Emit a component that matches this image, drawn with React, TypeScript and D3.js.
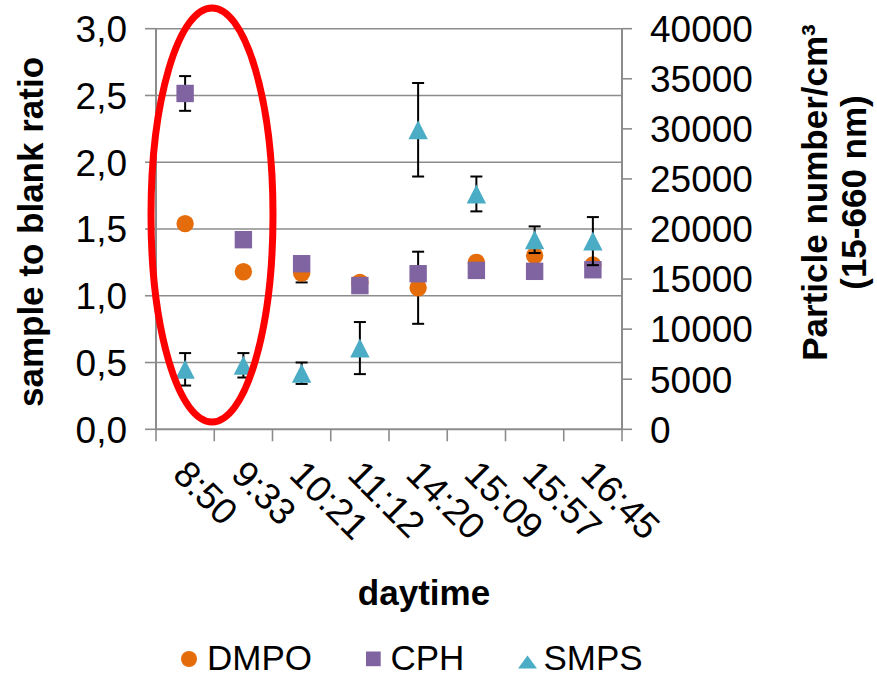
import React from 'react';
import * as d3 from 'd3';

const categories = ['8:50', '9:33', '10:21', '11:12', '14:20', '15:09', '15:57', '16:45'];
const dmpo = [1.54, 1.18, 1.17, 1.1, 1.06, 1.25, 1.3, 1.23];
const dmpoErr = [0, 0, 0.07, 0, 0.27, 0, 0, 0];
const cph = [2.515, 1.42, 1.24, 1.076, 1.165, 1.19, 1.183, 1.195];
const cphErr = [0.13, 0, 0, 0, 0, 0, 0, 0];
const smps = [5990, 6390, 5600, 8110, 29910, 23500, 18930, 18790];
const smpsErr = [1620, 1220, 1070, 2600, 4670, 1740, 1330, 2400];
const leftTicks = [0, 0.5, 1, 1.5, 2, 2.5, 3];
const rightTicks = [0, 5000, 10000, 15000, 20000, 25000, 30000, 35000, 40000];

const W = 877;
const H = 678;
const FONT = 'Liberation Sans, Arial, Helvetica, sans-serif';
const ORANGE = '#E46C0A';
const PURPLE = '#8064A2';
const TEAL = '#4BACC6';
const GRID = '#8C8C8C';

const plot = { left: 156, right: 622, top: 28.7, bottom: 429.3 };

export default function App() {
  const x = d3.scaleBand<string>().domain(categories).range([plot.left, plot.right]).padding(0);
  const yL = d3.scaleLinear().domain([0, 3]).range([plot.bottom, plot.top]);
  const yR = d3.scaleLinear().domain([0, 40000]).range([plot.bottom, plot.top]);
  const cx = (c: string) => (x(c) as number) + x.bandwidth() / 2;
  const fmtL = (v: number) => d3.format('.1f')(v).replace('.', ',');
  const tri = (w: number, h: number) =>
    d3.line()([[0, -h / 2], [w / 2, h / 2], [-w / 2, h / 2]]) + 'Z';

  const errBars = (vals: number[], errs: number[], y: d3.ScaleLinear<number, number>, key: string) =>
    vals.map((v, i) =>
      errs[i] > 0 ? (
        <g key={key + i} stroke="#000" strokeWidth={2}>
          <line x1={cx(categories[i])} x2={cx(categories[i])} y1={y(v + errs[i])} y2={y(v - errs[i])} />
          <line x1={cx(categories[i]) - 6} x2={cx(categories[i]) + 6} y1={y(v + errs[i])} y2={y(v + errs[i])} />
          <line x1={cx(categories[i]) - 6} x2={cx(categories[i]) + 6} y1={y(v - errs[i])} y2={y(v - errs[i])} />
        </g>
      ) : null
    );

  const boundaries = categories.map((c) => x(c) as number).concat([plot.right]);

  return (
    <svg width={W} height={H} style={{ position: 'absolute', left: 0, top: 0, background: '#fff' }}
      fontFamily={FONT}>
      <rect x={0} y={0} width={W} height={H} fill="#fff" />
      {/* gridlines */}
      {leftTicks.filter((t) => t > 0).map((t) => (
        <line key={'g' + t} x1={plot.left} x2={plot.right} y1={yL(t)} y2={yL(t)} stroke={GRID} strokeWidth={1.6} />
      ))}
      {/* left axis */}
      <line x1={plot.left} x2={plot.left} y1={plot.top} y2={plot.bottom} stroke={GRID} strokeWidth={2} />
      {leftTicks.map((t) => (
        <g key={'lt' + t}>
          <line x1={plot.left - 11} x2={plot.left} y1={yL(t)} y2={yL(t)} stroke={GRID} strokeWidth={1.6} />
          <text x={127} y={yL(t)} dy="0.36em" textAnchor="end" fontSize={37} fill="#000">{fmtL(t)}</text>
        </g>
      ))}
      {/* right axis */}
      <line x1={plot.right} x2={plot.right} y1={plot.top} y2={plot.bottom} stroke={GRID} strokeWidth={2} />
      {rightTicks.map((t) => (
        <g key={'rt' + t}>
          <line x1={plot.right} x2={plot.right + 10} y1={yR(t)} y2={yR(t)} stroke={GRID} strokeWidth={1.6} />
          <text x={650} y={yR(t)} dy="0.36em" textAnchor="start" fontSize={37} fill="#000">{t}</text>
        </g>
      ))}
      {/* bottom axis */}
      <line x1={plot.left} x2={plot.right} y1={plot.bottom} y2={plot.bottom} stroke={GRID} strokeWidth={2} />
      {boundaries.map((b, i) => (
        <line key={'xt' + i} x1={b} x2={b} y1={plot.bottom} y2={plot.bottom + 12} stroke={GRID} strokeWidth={1.6} />
      ))}
      {categories.map((c) => (
        <text key={'xl' + c} transform={`translate(${cx(c) - 14},${plot.bottom + 47}) rotate(45)`}
          fontSize={37} fill="#000">{c}</text>
      ))}

      {/* DMPO */}
      {errBars(dmpo, dmpoErr, yL, 'de')}
      {dmpo.map((v, i) => (
        <circle key={'d' + i} cx={cx(categories[i])} cy={yL(v)} r={8.7} fill={ORANGE} />
      ))}
      {/* CPH */}
      {errBars(cph, cphErr, yL, 'ce')}
      {cph.map((v, i) => (
        <rect key={'c' + i} x={cx(categories[i]) - 8.7} y={yL(v) - 8.7} width={17.4} height={17.4} fill={PURPLE} />
      ))}
      {/* SMPS */}
      {errBars(smps, smpsErr, yR, 'se')}
      {smps.map((v, i) => (
        <path key={'s' + i} d={tri(19.4, 19)} transform={`translate(${cx(categories[i])},${yR(v)})`} fill={TEAL} />
      ))}

      {/* red ellipse annotation */}
      <ellipse cx={212} cy={215} rx={61} ry={207} fill="none" stroke="#FF0000" strokeWidth={7} />

      {/* axis titles */}
      <text transform="translate(43,232) rotate(-90)" textAnchor="middle" fontSize={35} fontWeight="bold" fill="#000">
        sample to blank ratio
      </text>
      <text transform="translate(827,192.5) rotate(-90)" textAnchor="middle" fontSize={35} fontWeight="bold" fill="#000">
        Particle number/cm³
      </text>
      <text transform="translate(866,192.5) rotate(-90)" textAnchor="middle" fontSize={35} fontWeight="bold" fill="#000">
        (15-660 nm)
      </text>
      <text x={424} y={605} textAnchor="middle" fontSize={35} fontWeight="bold" fill="#000">daytime</text>

      {/* legend */}
      <circle cx={189} cy={659} r={8} fill={ORANGE} />
      <text x={207} y={670} fontSize={35} fill="#000">DMPO</text>
      <rect x={366} y={651.5} width={14.7} height={14.7} fill={PURPLE} />
      <text x={390.5} y={670} fontSize={35} fill="#000">CPH</text>
      <path d={tri(19, 13)} transform="translate(527.5,662)" fill={TEAL} />
      <text x={543.5} y={670} fontSize={35} fill="#000">SMPS</text>
    </svg>
  );
}
